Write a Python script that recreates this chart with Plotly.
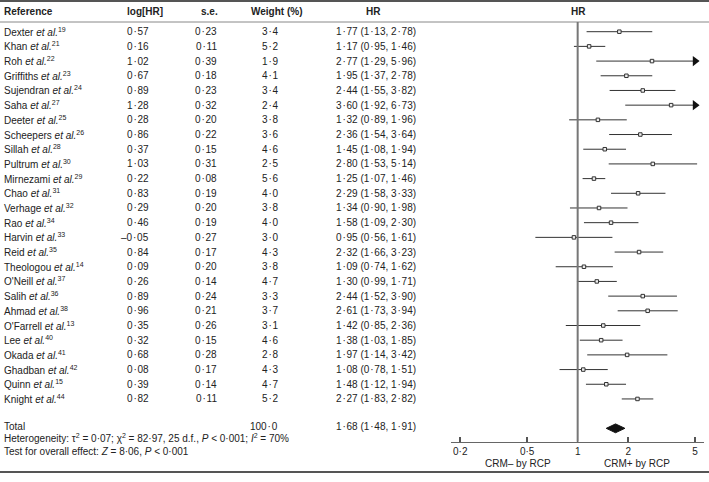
import plotly.graph_objects as go

# ---------------- data ----------------
names = ["Dexter", "Khan", "Roh", "Griffiths", "Sujendran", "Saha", "Deeter", "Scheepers",
         "Sillah", "Pultrum", "Mirnezami", "Chao", "Verhage", "Rao", "Harvin", "Reid",
         "Theologou", "O'Neill", "Salih", "Ahmad", "O'Farrell", "Lee", "Okada", "Ghadban",
         "Quinn", "Knight"]
refs = [19, 21, 22, 23, 24, 27, 25, 26, 28, 30, 29, 31, 32, 34, 33, 35, 14, 37, 36, 38,
        13, 40, 41, 42, 15, 44]
log_hr = [0.57, 0.16, 1.02, 0.67, 0.89, 1.28, 0.28, 0.86, 0.37, 1.03, 0.22, 0.83, 0.29,
          0.46, -0.05, 0.84, 0.09, 0.26, 0.89, 0.96, 0.35, 0.32, 0.68, 0.08, 0.39, 0.82]
se = [0.23, 0.11, 0.39, 0.18, 0.23, 0.32, 0.20, 0.22, 0.15, 0.31, 0.08, 0.19, 0.20, 0.19,
      0.27, 0.17, 0.20, 0.14, 0.24, 0.21, 0.26, 0.15, 0.28, 0.17, 0.14, 0.11]
weight = [3.4, 5.2, 1.9, 4.1, 3.4, 2.4, 3.8, 3.6, 4.6, 2.5, 5.6, 4.0, 3.8, 4.0, 3.0, 4.3,
          3.8, 4.7, 3.3, 3.7, 3.1, 4.6, 2.8, 4.3, 4.7, 5.2]
hr = [1.77, 1.17, 2.77, 1.95, 2.44, 3.60, 1.32, 2.36, 1.45, 2.80, 1.25, 2.29, 1.34, 1.58,
      0.95, 2.32, 1.09, 1.30, 2.44, 2.61, 1.42, 1.38, 1.97, 1.08, 1.48, 2.27]
lo = [1.13, 0.95, 1.29, 1.37, 1.55, 1.92, 0.89, 1.54, 1.08, 1.53, 1.07, 1.58, 0.90, 1.09,
      0.56, 1.66, 0.74, 0.99, 1.52, 1.73, 0.85, 1.03, 1.14, 0.78, 1.12, 1.83]
hi = [2.78, 1.46, 5.96, 2.78, 3.82, 6.73, 1.96, 3.64, 1.94, 5.14, 1.46, 3.33, 1.98, 2.30,
      1.61, 3.23, 1.62, 1.71, 3.90, 3.94, 2.36, 1.85, 3.42, 1.51, 1.94, 2.82]

total_weight = 100.0
total_hr, total_lo, total_hi = 1.68, 1.48, 1.91

tick_vals = [0.2, 0.5, 1, 2, 5]
tick_text = ["0·2", "0·5", "1", "2", "5"]

# ---------------- styling constants ----------------
W, H = 709, 482
FONT = "Liberation Sans, Arial, sans-serif"
TXT = "#222222"
FS = 10
CLIP = 5.3              # CIs beyond this get an arrow
ARROW_AT = 5.0          # where the arrow head is drawn
ROW_TOP = 31.7          # pixel of first row
ROW_H = 14.69           # pixel per row
AXIS_PX = 441.7         # pixel of x axis line
TOTAL_ROW = 27
DOT = "\u200a·\u200a"


def fmt(v, nd=2):
    s = f"{abs(v):.{nd}f}".replace(".", DOT)
    return ("–" + s) if v < 0 else s


def py(px):  # pixel (from top) -> paper
    return 1 - px / H


def px_x(px):
    return px / W


n = len(names)
rows = list(range(n))

fig = go.Figure()

# CI lines
cx, cy = [], []
arrow_rows = []
for i in rows:
    upper = hi[i]
    if upper > CLIP:
        upper = ARROW_AT
        arrow_rows.append(i)
    cx += [lo[i], upper, None]
    cy += [i, i, None]
fig.add_trace(go.Scatter(x=cx, y=cy, mode="lines", line=dict(color="#333333", width=1),
                         hoverinfo="skip", showlegend=False))
# arrows
fig.add_trace(go.Scatter(x=[ARROW_AT] * len(arrow_rows), y=arrow_rows, mode="markers",
                         marker=dict(symbol="triangle-right", size=9, color="#111111"),
                         hoverinfo="skip", showlegend=False, cliponaxis=False))
# point estimates
fig.add_trace(go.Scatter(x=hr, y=rows, mode="markers",
                         marker=dict(symbol="square", size=3.5, color="#eeeeee",
                                     line=dict(color="#333333", width=1)),
                         hoverinfo="skip", showlegend=False))
# total diamond
dh = 0.3
fig.add_trace(go.Scatter(x=[total_lo, total_hr, total_hi, total_hr, total_lo],
                         y=[TOTAL_ROW, TOTAL_ROW - dh, TOTAL_ROW, TOTAL_ROW + dh, TOTAL_ROW],
                         mode="lines", fill="toself", fillcolor="#111111",
                         line=dict(color="#111111", width=1), hoverinfo="skip",
                         showlegend=False))

# ---------------- table text ----------------
ann = []


def add_text(text, xpx, yrow, anchor="left", bold=False, yref="y"):
    t = f"<b>{text}</b>" if bold else text
    ann.append(dict(text=t, x=px_x(xpx), xref="paper", y=yrow, yref=yref,
                    xanchor=anchor, yanchor="middle", showarrow=False,
                    font=dict(family=FONT, size=FS, color=TXT)))


header_row = (11.7 - ROW_TOP) / ROW_H
add_text("Reference", 2, header_row, bold=True)
add_text("log[HR]", 145, header_row, anchor="center", bold=True)
add_text("s.e.", 209, header_row, anchor="center", bold=True)
add_text("Weight (%)", 276, header_row, anchor="center", bold=True)
add_text("HR", 374, header_row, anchor="center", bold=True)
add_text("HR", 578, header_row, anchor="center", bold=True)

for i in rows:
    add_text(f"{names[i]} <i>et al.</i><sup>{refs[i]}</sup>", 2, i)
    add_text(fmt(log_hr[i]), 151, i, anchor="right")
    add_text(fmt(se[i]), 219, i, anchor="right")
    add_text(fmt(weight[i], 1), 281, i, anchor="right")
    add_text(f"{fmt(hr[i])} ({fmt(lo[i])}, {fmt(hi[i])})", 376.5, i, anchor="center")

total_text_row = TOTAL_ROW - 0.1
add_text("Total", 2, total_text_row)
add_text(fmt(total_weight, 1), 280, total_text_row, anchor="right")
add_text(f"{fmt(total_hr)} ({fmt(total_lo)}, {fmt(total_hi)})", 376.5, total_text_row,
         anchor="center")

add_text("Heterogeneity: τ<sup>2</sup> = 0·07; χ<sup>2</sup> = 82·97, 25 d.f., "
         "<i>P</i> < 0·001; <i>I</i><sup>2</sup> = 70%", 2, py(437.5), yref="paper")
add_text("Test for overall effect: <i>Z</i> = 8·06, <i>P</i> < 0·001", 2, py(451),
         yref="paper")
add_text("CRM– by RCP", 518, py(463.5), anchor="center", yref="paper")
add_text("CRM+ by RCP", 637, py(463.5), anchor="center", yref="paper")

# ---------------- rules & reference line ----------------
shapes = [
    dict(type="line", xref="paper", yref="paper", x0=0, x1=1, y0=py(1), y1=py(1),
         line=dict(color="#555555", width=2)),
    dict(type="line", xref="paper", yref="paper", x0=0, x1=1, y0=py(22), y1=py(22),
         line=dict(color="#888888", width=1)),
    dict(type="line", xref="paper", yref="paper", x0=0, x1=1, y0=py(472), y1=py(472),
         line=dict(color="#555555", width=2)),
    dict(type="line", xref="x", yref="paper", x0=1, x1=1, y0=py(AXIS_PX), y1=py(22),
         line=dict(color="#777777", width=2)),
]

y_top = -ROW_TOP / ROW_H
y_bot = (AXIS_PX - ROW_TOP) / ROW_H

fig.update_layout(
    width=W, height=H,
    margin=dict(l=0, r=0, t=0, b=0),
    paper_bgcolor="white", plot_bgcolor="white",
    annotations=ann, shapes=shapes,
    xaxis=dict(type="log", domain=[451 / W, 704 / W], range=[-0.754, 0.752],
               showgrid=False, zeroline=False, showline=True, linecolor="#666666",
               linewidth=1.5, ticks="inside", ticklen=5, tickwidth=1.5, tickcolor="#555555",
               tickvals=tick_vals, ticktext=tick_text,
               tickfont=dict(family=FONT, size=FS, color=TXT)),
    yaxis=dict(domain=[1 - AXIS_PX / H, 1], range=[y_bot, y_top], visible=False,
               showgrid=False, zeroline=False),
    font=dict(family=FONT, size=FS, color=TXT),
)

fig.write_html("out.html", config={"displayModeBar": False, "staticPlot": True},
               post_script="document.body.style.margin='0';document.body.style.padding='0';")
